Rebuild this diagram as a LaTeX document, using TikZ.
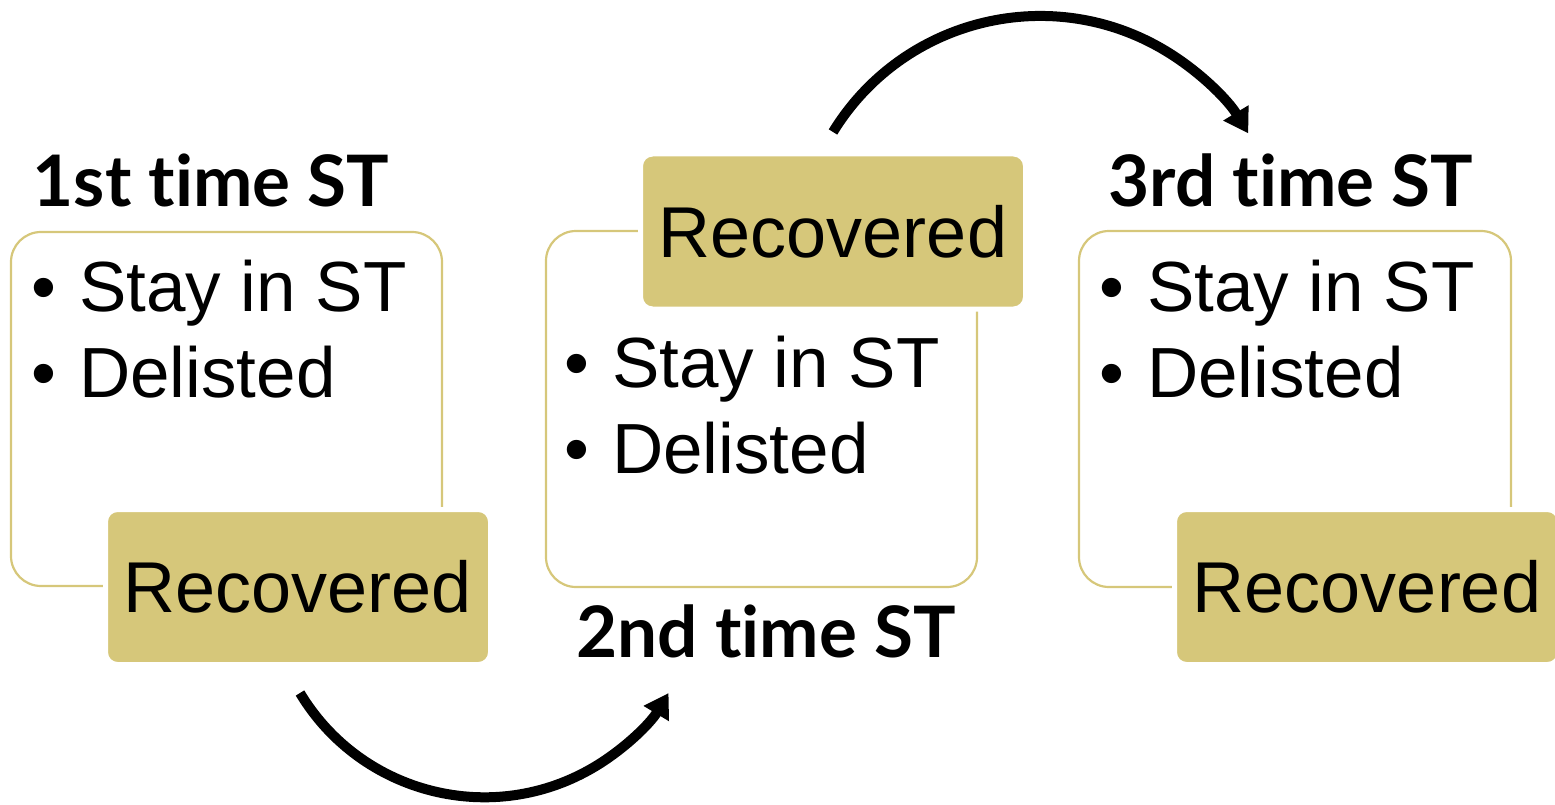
\documentclass[tikz,border=0pt]{standalone}
\usepackage{fontspec}
\setmainfont{Liberation Sans}
\newfontfamily\headfont[Ligatures={NoCommon,NoContextual}]{Lato}
\usetikzlibrary{arrows.meta}
\definecolor{gold}{RGB}{214,199,122}
\newcommand{\bul}{\makebox[48pt][l]{•}}
\begin{document}
\begin{tikzpicture}[x=1pt,y=-1pt,
  outline/.style={draw=gold,line width=2.2pt,rounded corners=30pt,inner sep=0pt},
  recbox/.style={fill=gold,draw=white,line width=5pt,rounded corners=12pt,minimum width=385pt,minimum height=155pt,inner sep=0pt,font=\fontsize{72}{86}\selectfont},
  listline/.style={anchor=base west,inner sep=0pt,font=\fontsize{71}{86}\selectfont},
  heading/.style={anchor=base,inner sep=0pt,font=\headfont\bfseries\fontsize{71}{84}\selectfont},
  flow/.style={line width=10pt,-{Triangle[length=24pt,width=28pt]}}]
\useasboundingbox (0,0) rectangle (1555,805);
% outline boxes
\node[outline,minimum width=431pt,minimum height=354pt] (b1) at (226.5,409) {};
\node[outline,minimum width=431pt,minimum height=356pt] (b2) at (761.5,409) {};
\node[outline,minimum width=432pt,minimum height=356pt] (b3) at (1295,409) {};
% recovered boxes
\node[recbox] (r1) at (298,587) {Recovered};
\node[recbox] (r2) at (833,231.5) {Recovered};
\node[recbox] (r3) at (1367,587) {Recovered};
% headings
\node[heading] (h1) at (211,207) {1st time ST};
\node[heading] (h2) at (766,657) {2nd time ST};
\node[heading] (h3) at (1291,207) {3rd time ST};
% lists
\node[listline] (s1) at (31,311) {\bul Stay in ST};
\node[listline] (d1) at (31,397) {\bul Delisted};
\node[listline] (s2) at (564,387) {\bul Stay in ST};
\node[listline] (d2) at (564,473) {\bul Delisted};
\node[listline] (s3) at (1099,311) {\bul Stay in ST};
\node[listline] (d3) at (1099,397) {\bul Delisted};
% arrows
\coordinate (a1s) at (300,693);
\coordinate (a2s) at (833,132);
\draw[flow] (a1s) arc[start angle=149,end angle=31,radius=215];
\draw[flow] (a2s) arc[start angle=211.5,end angle=328.9,radius=243];
\end{tikzpicture}
\end{document}
